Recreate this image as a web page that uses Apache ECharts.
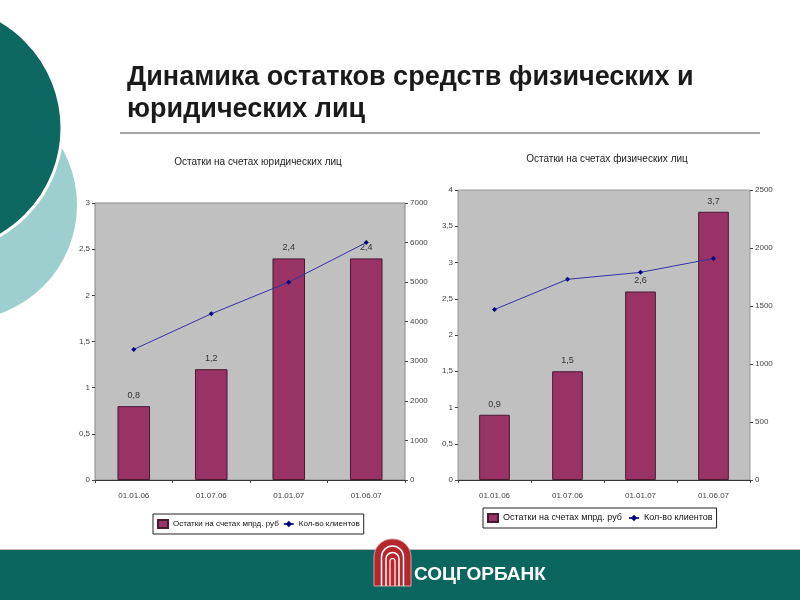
<!DOCTYPE html>
<html><head><meta charset="utf-8">
<script src="https://cdn.jsdelivr.net/npm/echarts@6/dist/echarts.min.js"></script>
<style>html,body{margin:0;padding:0;background:#fff}#c{width:800px;height:600px}</style>
</head><body><div id="c"></div>
<script>
const catsLeft = ['01.01.06', '01.07.06', '01.01.07', '01.06.07'];
const catsRight = ['01.01.06', '01.07.06', '01.01.07', '01.06.07'];
const balanceLegal = [0.8, 1.2, 2.4, 2.4];
const clientsLegal = [3300, 4200, 5000, 6000];
const balanceIndiv = [0.9, 1.5, 2.6, 3.7];
const clientsIndiv = [1470, 1730, 1790, 1910];
const nameBar = 'Остатки на счетах мпрд. руб';
const nameLine = 'Кол-во клиентов';

const chart = echarts.init(document.getElementById('c'));
const narrow = '"Liberation Sans Narrow","Liberation Sans",Arial,sans-serif';
const comma = v => String(v).replace('.', ',');
const axLbl = {fontSize: 8, color: '#444', fontFamily: narrow};

function valAxis(grid, pos, max, interval, fmt) {
  return {type: 'value', gridIndex: grid, position: pos, min: 0, max: max, interval: interval,
    axisLine: {show: false}, axisTick: {show: true, length: 3, lineStyle: {color: '#444'}},
    splitLine: {show: false}, axisLabel: Object.assign({formatter: fmt, margin: 5}, axLbl)};
}
function catAxis(grid, data) {
  return {type: 'category', gridIndex: grid, data: data,
    axisLine: {lineStyle: {color: '#333'}}, axisTick: {show: true, length: 3, lineStyle: {color: '#444'}},
    axisLabel: Object.assign({margin: 12}, axLbl)};
}
function barSeries(x, y, data) {
  return {name: nameBar, type: 'bar', xAxisIndex: x, yAxisIndex: y, data: data, barWidth: '42%',
    itemStyle: {color: '#993366', borderColor: '#4a1a30', borderWidth: 1},
    label: {show: true, position: 'top', formatter: p => comma(p.value), fontSize: 9, color: '#333', fontFamily: narrow, distance: 6}};
}
function lineSeries(x, y, data) {
  return {name: nameLine, type: 'line', xAxisIndex: x, yAxisIndex: y, data: data,
    symbol: 'diamond', symbolSize: 5, itemStyle: {color: '#000080'},
    lineStyle: {color: '#3333a0', width: 1}, z: 5};
}
function legend(left, top, fs, gap) {
  return {left: left, top: top, orient: 'horizontal', data: [{name: nameBar, icon: 'rect'}, nameLine],
    itemWidth: 10, itemHeight: 8, itemGap: gap, padding: [5, 4], borderColor: '#222', borderWidth: 1, borderRadius: 0,
    textStyle: {fontSize: fs, color: '#111', fontFamily: narrow}};
}
function archPart(cx, cy, r, w) {
  return [
    {type: 'arc', shape: {cx: cx, cy: cy, r: r, startAngle: Math.PI, endAngle: 2 * Math.PI, clockwise: true}, style: {fill: 'none', stroke: '#fff', lineWidth: w}, z: 11},
    {type: 'line', shape: {x1: cx - r, y1: cy, x2: cx - r, y2: 586}, style: {stroke: '#fff', lineWidth: w}, z: 11},
    {type: 'line', shape: {x1: cx + r, y1: cy, x2: cx + r, y2: 586}, style: {stroke: '#fff', lineWidth: w}, z: 11}
  ];
}

chart.setOption({
  animation: false,
  backgroundColor: '#fff',
  grid: [
    {left: 95, top: 203, width: 310, height: 277, show: true, backgroundColor: '#c0c0c0', borderColor: '#888', borderWidth: 1},
    {left: 458, top: 190, width: 292, height: 290, show: true, backgroundColor: '#c0c0c0', borderColor: '#999', borderWidth: 1}
  ],
  xAxis: [catAxis(0, catsLeft), catAxis(1, catsRight)],
  yAxis: [
    valAxis(0, 'left', 3, 0.5, v => comma(v)),
    valAxis(0, 'right', 7000, 1000, v => String(v)),
    valAxis(1, 'left', 4, 0.5, v => comma(v)),
    valAxis(1, 'right', 2500, 500, v => String(v))
  ],
  legend: [legend(153, 514, 8, 4), legend(483, 508, 9, 6)],
  series: [
    barSeries(0, 0, balanceLegal), lineSeries(0, 1, clientsLegal),
    barSeries(1, 2, balanceIndiv), lineSeries(1, 3, clientsIndiv)
  ],
  graphic: [
    {type: 'circle', shape: {cx: -38, cy: 205, r: 115}, style: {fill: '#9ccfce'}, silent: true, z: -10},
    {type: 'circle', shape: {cx: -62, cy: 128, r: 124}, style: {fill: '#0e6862', stroke: '#fff', lineWidth: 3}, silent: true, z: -9},
    {type: 'text', x: 127, y: 64, style: {text: 'Динамика остатков средств физических и', font: 'bold 27px "Liberation Sans", Arial, sans-serif', fill: '#1a1a1a'}},
    {type: 'text', x: 127, y: 96, style: {text: 'юридических лиц', font: 'bold 27px "Liberation Sans", Arial, sans-serif', fill: '#1a1a1a'}},
    {type: 'line', shape: {x1: 120, y1: 133, x2: 760, y2: 133}, style: {stroke: '#888', lineWidth: 1.5}},
    {type: 'text', x: 258, y: 157, style: {text: 'Остатки на счетах юридических лиц', font: '10px ' + narrow, fill: '#222', textAlign: 'center'}},
    {type: 'text', x: 607, y: 154, style: {text: 'Остатки на счетах физических лиц', font: '10px ' + narrow, fill: '#222', textAlign: 'center'}},
    {type: 'rect', shape: {x: 0, y: 550, width: 800, height: 50}, style: {fill: '#0b6660'}, z: -5},
    {type: 'line', shape: {x1: 0, y1: 549.5, x2: 800, y2: 549.5}, style: {stroke: '#bbb', lineWidth: 1}},
    {type: 'rect', shape: {x: 374, y: 539, width: 37, height: 47, r: [18, 18, 0, 0]}, style: {fill: '#b5262d', stroke: '#d9a0a0', lineWidth: 1}, z: 10}
  ].concat(archPart(392.5, 557, 11, 1.5), archPart(392.5, 559, 6.5, 1.5), archPart(392.5, 561, 2.5, 1.2), [
    {type: 'text', x: 414, y: 565, style: {text: 'СОЦГОРБАНК', font: 'bold 19px "Liberation Sans", Arial, sans-serif', fill: '#fff'}, z: 11}
  ])
});
</script></body></html>
